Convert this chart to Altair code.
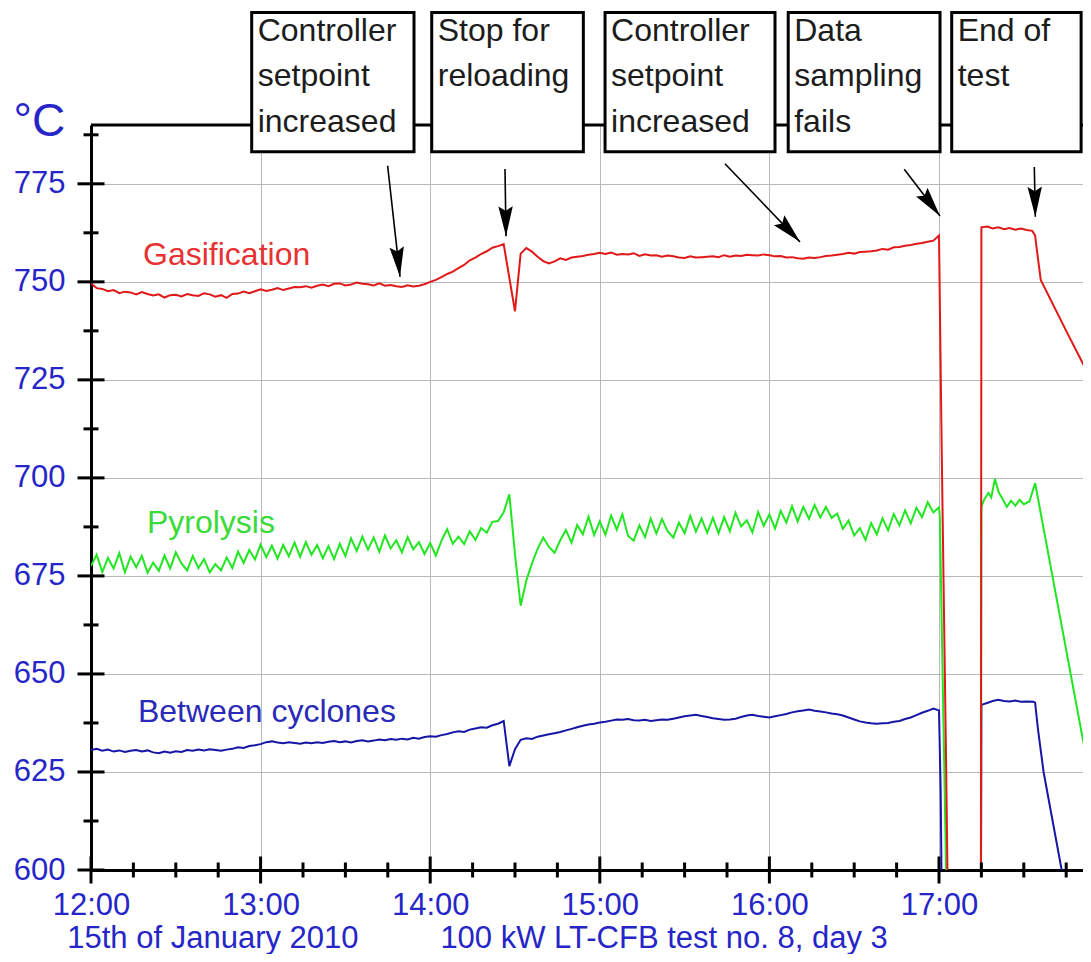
import math
import altair as alt
import pandas as pd

# ---------------- data ----------------
# main record: minutes after 12:00, every 2 minutes, 12:00 .. 17:00
grid_minutes = list(range(0, 301, 2))

gasification = [
    749.6, 748.4, 748.2, 747.6, 747.9, 747.1, 747.5, 747.3, 746.8, 747.4,
    746.9, 746.5, 746.8, 746.0, 746.6, 746.7, 746.3, 746.9, 746.6, 746.4,
    747.1, 746.8, 746.2, 746.6, 745.9, 746.9, 747.0, 747.5, 747.1, 747.6,
    748.1, 747.7, 748.0, 748.4, 747.9, 748.3, 748.7, 748.6, 748.9, 748.5,
    749.0, 749.3, 748.9, 749.5, 749.6, 749.1, 749.3, 749.8, 749.5, 749.4,
    749.1, 749.6, 749.0, 749.2, 748.9, 748.7, 749.1, 748.8, 749.0, 749.4,
    750.0, 750.5, 751.2, 752.0, 752.6, 753.5, 754.3, 755.5, 756.2, 757.1,
    757.8, 758.7, 759.1, 759.6, 751.0, 742.5, 757.2, 758.6, 757.7, 756.4,
    755.3, 754.7, 755.2, 756.0, 755.6, 756.2, 756.4, 756.6, 756.9, 757.1,
    757.4, 757.1, 757.5, 756.9, 757.1, 757.0, 757.3, 756.6, 757.0, 756.7,
    756.8, 756.4, 756.7, 756.5, 756.2, 756.1, 756.5, 756.2, 756.3, 756.4,
    756.5, 756.3, 756.8, 756.4, 756.7, 756.6, 756.9, 756.8, 756.7, 757.0,
    756.8, 756.5, 756.6, 756.2, 756.3, 756.0, 755.9, 756.2, 756.1, 756.3,
    756.6, 756.7, 756.9, 757.1, 757.4, 757.2, 757.6, 757.7, 757.8, 758.0,
    758.4, 758.2, 758.8, 758.9, 759.2, 759.4, 759.7, 759.9, 760.2, 760.5,
    761.8,
]

pyrolysis = [
    677.5, 680.4, 676.0, 679.6, 676.9, 680.8, 675.9, 679.9, 677.2, 680.1,
    675.8, 678.4, 676.3, 680.2, 676.9, 681.0, 678.2, 676.4, 680.1, 677.0,
    679.3, 675.9, 678.0, 676.4, 679.7, 677.0, 681.2, 678.3, 681.6, 679.2,
    683.0, 679.8, 682.7, 679.4, 682.9, 680.0, 683.5, 679.9, 683.6, 680.4,
    682.9, 679.5, 682.6, 679.3, 683.2, 680.1, 684.6, 681.4, 685.0, 681.7,
    684.8, 681.2, 685.3, 682.0, 684.1, 681.0, 684.9, 681.8, 683.6, 680.6,
    683.4, 680.2, 684.0, 686.9, 683.2, 685.0, 683.1, 686.4, 684.2, 687.2,
    686.0, 688.8, 689.0, 691.2, 695.8, 680.5, 667.4, 673.8, 678.2, 681.9,
    684.8, 682.4, 680.9, 684.1, 686.7, 683.5, 688.0, 685.6, 690.1, 685.4,
    688.9, 685.5, 690.4, 686.8, 690.7, 685.2, 684.0, 687.9, 684.9, 689.6,
    685.8, 689.5, 686.4, 684.8, 688.6, 685.9, 690.3, 686.3, 689.6, 686.0,
    689.8, 685.9, 690.0, 686.4, 691.1, 687.6, 689.2, 686.1, 691.3, 687.8,
    690.7, 687.1, 691.6, 688.6, 692.8, 688.9, 692.6, 689.6, 693.1, 689.9,
    692.6, 689.8, 690.9, 687.0, 689.1, 685.3, 687.2, 684.2, 688.5, 685.6,
    689.7, 686.6, 690.8, 687.9, 691.7, 688.4, 692.4, 690.0, 693.8, 691.2,
    692.5,
]

between_cyclones = [
    630.6, 630.9, 630.4, 630.7, 630.2, 630.5, 630.1, 630.4, 630.6, 630.2,
    630.5, 630.0, 629.8, 630.2, 629.9, 630.3, 630.1, 630.6, 630.4, 630.7,
    630.5, 630.8, 630.6, 630.4, 630.7, 630.9, 631.3, 631.1, 631.6, 631.8,
    632.1, 632.6, 632.8, 632.5, 632.3, 632.6, 632.4, 632.2, 632.5, 632.3,
    632.6, 632.4, 632.7, 632.9, 632.6, 632.8, 632.5, 632.9, 633.1, 632.8,
    633.0, 633.3, 633.1, 633.4, 633.2, 633.5, 633.3, 633.7, 633.5, 633.9,
    634.1, 634.0, 634.4, 634.7, 635.1, 635.4, 635.2, 635.8, 636.1, 636.4,
    636.3, 636.9, 637.3, 638.0, 626.5, 630.8, 633.2, 633.6, 633.4, 634.0,
    634.3, 634.6, 634.9, 635.2, 635.6, 636.0, 636.4, 636.8, 637.1, 637.3,
    637.6, 637.8, 638.1, 638.4, 638.3, 638.5, 638.2, 638.1, 638.3, 638.0,
    638.2, 638.4, 638.3, 638.6, 638.9, 639.2, 639.4, 639.6, 639.3, 639.0,
    638.7, 638.5, 638.3, 638.4, 638.6, 639.0, 639.4, 639.6, 639.3, 639.1,
    638.9, 639.2, 639.5, 639.8, 640.2, 640.5, 640.7, 640.9, 640.6, 640.4,
    640.2, 639.9, 639.7, 639.4, 638.9, 638.4, 637.9, 637.6, 637.4, 637.3,
    637.4, 637.5, 637.8, 638.0, 638.5, 638.9, 639.5, 640.1, 640.6, 641.2,
    640.7,
]

# sampling failure, restart and end of test (minutes after 12:00, value)
gas_tail_min = [300.5, 301, 302.5, 303, 303.5, 314.8, 315, 317, 319, 321, 323, 325,
                327, 329, 331, 333, 334, 335, 336, 345, 356]
gas_tail_val = [733, 705, 628, 600, 570, 570, 763.9, 764.1, 763.6, 763.9, 763.4, 763.7,
                763.3, 763.6, 763.2, 763.0, 761.8, 756.0, 750.5, 737.5, 722.0]

pyr_tail_min = [300.3, 302.5, 303, 314.8, 315, 316, 317.5, 318.5, 319.8, 321, 322.5,
                324, 325.5, 327, 328.5, 330, 332, 334, 344, 356]
pyr_tail_val = [690.0, 600, 575, 575, 692.7, 694.5, 696.2, 695.0, 699.8, 696.5, 694.6,
                692.6, 694.2, 692.9, 694.4, 693.3, 694.0, 698.7, 660.0, 613.5]

btw_tail_min = [300.6, 301.2, 314.8, 315, 317, 319, 321, 323, 325, 327, 329, 331,
                333.4, 334, 335, 337, 343.4, 345]
btw_tail_val = [620, 575, 575, 642.1, 642.6, 643.1, 643.4, 643.1, 643.0, 643.2, 642.9,
                643.0, 642.9, 642.7, 636.0, 625.0, 600.0, 594.0]

series_names = ["Between cyclones", "Pyrolysis", "Gasification"]
series_colors = ["#1616a6", "#22e622", "#e01818"]
label_colors = ["#2a2ab8", "#3ada3a", "#e83232"]
label_x = [12.277, 12.330, 12.307]
label_y = [637.8, 685.9, 754.3]

# annotation boxes
box_text = ["Controller\nsetpoint\nincreased", "Stop for\nreloading",
            "Controller\nsetpoint\nincreased", "Data\nsampling\nfails", "End of\ntest"]
box_start = [12.9475, 14.009, 15.031, 16.111, 17.075]
box_end = [13.9045, 14.903, 16.033, 17.006, 17.838]
box_top = [818.7] * 5
box_bottom = [783.2] * 5
box_text_y = [811.5] * 5

# arrows (tail -> tip)
arrow_x1 = [13.749, 14.441, 15.738, 16.795, 17.562]
arrow_y1 = [779.6, 778.8, 780.1, 778.7, 779.3]
arrow_x2 = [13.822, 14.447, 16.180, 17.006, 17.568]
arrow_y2 = [751.3, 761.6, 760.2, 766.8, 766.6]

x_major_ticks = [12, 13, 14, 15, 16, 17]
x_minor_ticks = [12.25, 12.5, 12.75, 13.25, 13.5, 13.75, 14.25, 14.5, 14.75,
                 15.25, 15.5, 15.75, 16.25, 16.5, 16.75, 17.25, 17.5, 17.75]
y_major_ticks = [600, 625, 650, 675, 700, 725, 750, 775]
y_minor_ticks = [612.5, 637.5, 662.5, 687.5, 712.5, 737.5, 762.5, 787.5]

footer_text = ["15th of January 2010", "100 kW LT-CFB test no. 8, day 3"]
footer_x = [11.86, 14.06]
footer_y = [580.0, 580.0]

# ---------------- layout constants ----------------
W, H = 992, 745
X_DOMAIN = [12, 12 + 992 / 169.6]
Y_DOMAIN = [600, 790]
FONT = "Liberation Sans"
AXIS_BLUE = "#2626c8"

# ---------------- tables ----------------
rows = []
main_series = [between_cyclones, pyrolysis, gasification]
tails = [(btw_tail_min, btw_tail_val), (pyr_tail_min, pyr_tail_val), (gas_tail_min, gas_tail_val)]
for name, vals, (tm, tv) in zip(series_names, main_series, tails):
    for m, v in zip(grid_minutes, vals):
        rows.append({"series": name, "t": 12 + m / 60.0, "v": v})
    for m, v in zip(tm, tv):
        rows.append({"series": name, "t": 12 + m / 60.0, "v": v})
lines_df = pd.DataFrame(rows)

labels_df = pd.DataFrame({"series": series_names, "t": label_x, "v": label_y, "c": label_colors})

boxes_df = pd.DataFrame({"label": box_text, "x1": box_start, "x2": box_end,
                         "y1": box_bottom, "y2": box_top, "ty": box_text_y})

pxh = W / (X_DOMAIN[1] - X_DOMAIN[0])
pxd = H / (Y_DOMAIN[1] - Y_DOMAIN[0])
angles = []
for a, b, c, d in zip(arrow_x1, arrow_y1, arrow_x2, arrow_y2):
    dxp = (c - a) * pxh
    dyp = -(d - b) * pxd
    angles.append(math.degrees(math.atan2(-dxp, dyp)) % 360)
arrows_df = pd.DataFrame({"x1": arrow_x1, "y1": arrow_y1, "x2": arrow_x2, "y2": arrow_y2,
                          "angle": angles})

xt_major = pd.DataFrame({"t": x_major_ticks})
xt_minor = pd.DataFrame({"t": x_minor_ticks})
yt_major = pd.DataFrame({"v": y_major_ticks})
yt_minor = pd.DataFrame({"v": y_minor_ticks})
footer_df = pd.DataFrame({"text": footer_text, "t": footer_x, "v": footer_y})

xscale = alt.Scale(domain=X_DOMAIN, nice=False, zero=False)
yscale = alt.Scale(domain=Y_DOMAIN, nice=False, zero=False)

x_axis = alt.Axis(values=x_major_ticks, labelExpr="datum.value + ':00'", grid=True,
                  gridColor="#b8b8b8", gridWidth=1, domain=True, domainColor="black",
                  domainWidth=3, ticks=False, tickSize=0, labelFontSize=31, labelFont=FONT,
                  labelColor=AXIS_BLUE, labelPadding=20, labelFlush=False,
                  labelOverlap=False, title=None)
y_axis = alt.Axis(values=y_major_ticks, grid=True, gridColor="#b8b8b8", gridWidth=1,
                  domain=True, domainColor="black", domainWidth=3, ticks=False, tickSize=0,
                  labelFontSize=31, labelFont=FONT, labelColor=AXIS_BLUE, labelPadding=26,
                  title="°C", titleAngle=0, titleAlign="left", titleBaseline="alphabetic",
                  titleX=-78, titleY=10, titleFontSize=46, titleFont=FONT,
                  titleFontWeight="normal", titleColor=AXIS_BLUE)


def X(f):
    return alt.X(f, type="quantitative", scale=xscale, axis=x_axis)


def Y(f):
    return alt.Y(f, type="quantitative", scale=yscale, axis=y_axis)


XD = alt.XDatum(12, type="quantitative", scale=xscale, axis=x_axis)
YD = alt.YDatum(600, type="quantitative", scale=yscale, axis=y_axis)

lines = alt.Chart(lines_df).mark_line(strokeWidth=2, clip=True).encode(
    x=X("t"), y=Y("v"),
    color=alt.Color("series:N", scale=alt.Scale(domain=series_names, range=series_colors),
                    legend=None),
    order=alt.Order("t:Q"),
)

frame_top = alt.Chart(pd.DataFrame({"v": [Y_DOMAIN[1]]})).mark_rule(
    color="black", strokeWidth=3).encode(y=Y("v"))

tick_style = dict(thickness=3, color="black", opacity=1)
xt1 = alt.Chart(xt_major).mark_tick(orient="vertical", size=27, **tick_style).encode(
    x=X("t"), y=YD)
xt2 = alt.Chart(xt_minor).mark_tick(orient="vertical", size=15, **tick_style).encode(
    x=X("t"), y=YD)
yt1 = alt.Chart(yt_major).mark_tick(orient="horizontal", size=27, **tick_style).encode(
    y=Y("v"), x=XD)
yt2 = alt.Chart(yt_minor).mark_tick(orient="horizontal", size=15, **tick_style).encode(
    y=Y("v"), x=XD)

series_labels = alt.Chart(labels_df).mark_text(
    align="left", baseline="alphabetic", fontSize=32, font=FONT).encode(
    x=X("t"), y=Y("v"), text="series:N",
    color=alt.Color("c:N", scale=None, legend=None))

arrow_lines = alt.Chart(arrows_df).mark_rule(color="black", strokeWidth=1.6).encode(
    x=X("x1"), y=Y("y1"), x2="x2", y2="y2")
arrow_heads = alt.Chart(arrows_df).mark_point(
    shape="M0,0L-0.24,-1L0,-0.85L0.24,-1Z", size=3600, filled=True, color="black",
    opacity=1, strokeWidth=0).encode(
    x=X("x2"), y=Y("y2"), angle=alt.Angle("angle:Q", scale=None))

boxes = alt.Chart(boxes_df).mark_rect(fill="white", stroke="black", strokeWidth=3).encode(
    x=X("x1"), x2="x2", y=Y("y1"), y2="y2")
box_labels = alt.Chart(boxes_df).mark_text(
    align="left", baseline="alphabetic", lineBreak="\n", lineHeight=45.5, fontSize=32,
    font=FONT, dx=6, color="#1c1c1c").encode(x=X("x1"), y=Y("ty"), text="label:N")

footer = alt.Chart(footer_df).mark_text(
    align="left", baseline="alphabetic", fontSize=31, font=FONT, color=AXIS_BLUE).encode(
    x=X("t"), y=Y("v"), text="text:N")

chart = alt.layer(
    lines, frame_top, xt1, xt2, yt1, yt2, series_labels, arrow_lines, arrow_heads,
    boxes, box_labels, footer,
).properties(
    width=W, height=H,
    autosize=alt.AutoSizeParams(type="none"),
    padding={"left": 83, "top": 117, "right": 0, "bottom": 84},
).configure_view(stroke=None).configure(background="white")

chart.save("out.html", embed_options={"renderer": "svg", "actions": False})
